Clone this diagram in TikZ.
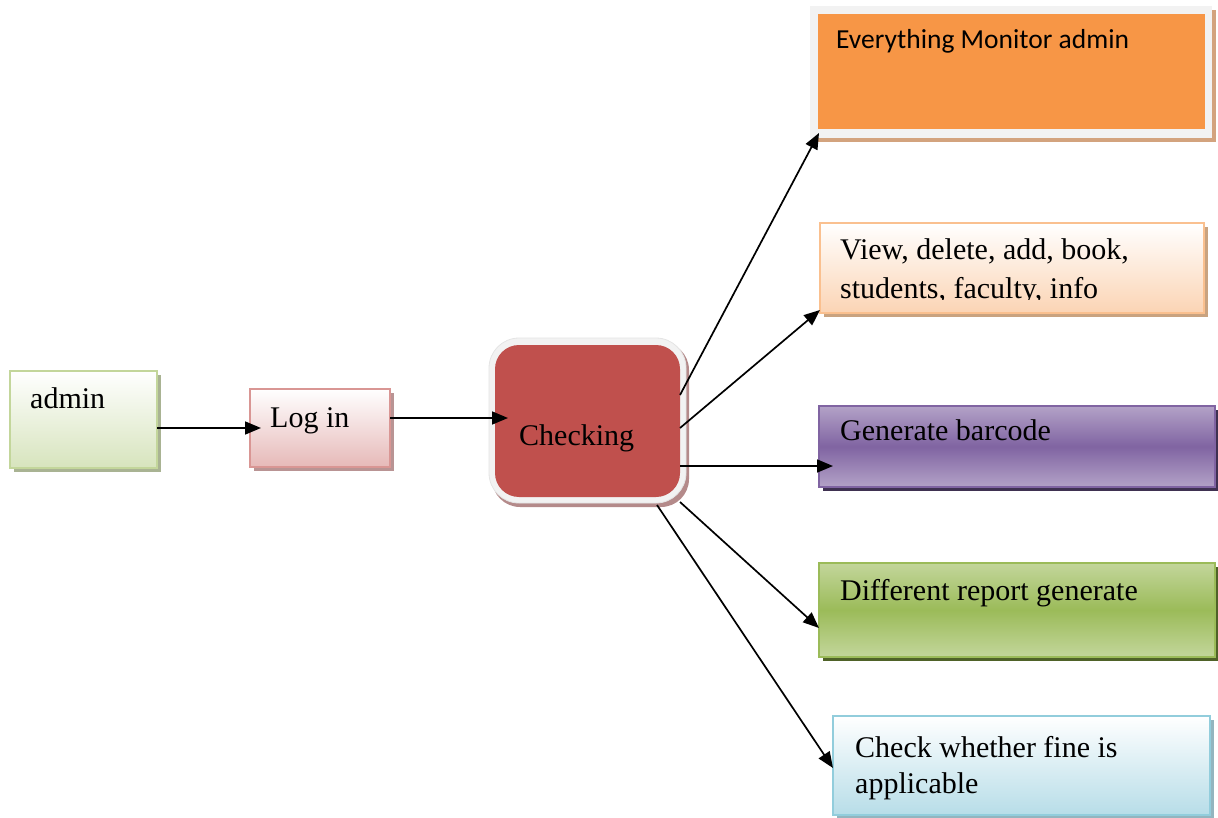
\documentclass[tikz,border=0pt]{standalone}
\usepackage{fontspec}
\setmainfont{Liberation Serif}
\newfontfamily\calfont{Carlito}
\usetikzlibrary{arrows.meta,calc}
\definecolor{gA}{HTML}{C3D69B}\definecolor{gB}{HTML}{D7E4BD}\definecolor{gS}{HTML}{A9B393}
\definecolor{pA}{HTML}{D99694}\definecolor{pB}{HTML}{E6B9B8}\definecolor{pS}{HTML}{B99494}
\definecolor{oA}{HTML}{FAC08F}\definecolor{oB}{HTML}{FBD4B4}\definecolor{oS}{HTML}{C9A380}
\definecolor{vA}{HTML}{B3A2C7}\definecolor{vB}{HTML}{8064A2}\definecolor{vS}{HTML}{3F3151}
\definecolor{lA}{HTML}{C3D69B}\definecolor{lB}{HTML}{9BBB59}\definecolor{lS}{HTML}{4F6228}
\definecolor{bA}{HTML}{92CDDC}\definecolor{bB}{HTML}{B7DDE8}\definecolor{bS}{HTML}{93B5BF}
\definecolor{orF}{HTML}{F79646}\definecolor{orS}{HTML}{D3A37E}
\definecolor{frm}{HTML}{F2F2F2}\definecolor{frmD}{HTML}{E4E4E4}
\definecolor{rdF}{HTML}{C0504D}\definecolor{rdS}{HTML}{B48A8A}
\tikzset{
  box/.style={rectangle,inner sep=0pt,outer sep=0pt,line width=1.6pt},
  txt/.style={anchor=base west,inner sep=0pt,font=\fontsize{30}{36}\selectfont},
  arr/.style={line width=1.7pt,-{Triangle[length=16pt,width=13pt]}},
}
\begin{document}
\begin{tikzpicture}[x=1pt,y=-1pt]
\useasboundingbox (0,0) rectangle (1218,818);
% shadows
\fill[gS] (14,375) rectangle (161,472);
\fill[pS] (254,393) rectangle (394,471);
\fill[oS] (824,227) rectangle (1208,317);
\fill[vS] (823,410) rectangle (1219,491);
\fill[lS] (823,567) rectangle (1219,661);
\fill[bS] (837,720) rectangle (1214,819);
\fill[orS] (814,10) rectangle (1216,142);
\fill[rdS,rounded corners=28pt] (492,342) rectangle (689,507);
% boxes
\node[box,draw=gA,top color=white,bottom color=gB,minimum width=147pt,minimum height=97pt] (admin) at (83.5,419.5) {};
\node[box,draw=pA,top color=white,bottom color=pB,minimum width=140pt,minimum height=78pt] (login) at (320,428) {};
\node[box,draw=frmD,fill=frm,line width=0.8pt,rounded corners=30pt,minimum width=197pt,minimum height=165pt] (chkframe) at (587.5,420.5) {};
\node[box,fill=rdF,draw=none,rounded corners=24pt,minimum width=185pt,minimum height=152pt] (chk) at (587.5,421) {};
\node[box,fill=frm,draw=none,minimum width=402pt,minimum height=132pt] (emaframe) at (1011,72) {};
\node[box,fill=orF,draw=none,minimum width=387pt,minimum height=115pt] (ema) at (1011.5,71.5) {};
\node[box,draw=oA,top color=white,bottom color=oB,minimum width=384pt,minimum height=90pt] (view) at (1012,268) {};
\node[box,draw=vB,top color=vA,bottom color=vA,middle color=vB,minimum width=396pt,minimum height=81pt] (gen) at (1017,446.5) {};
\node[box,draw=lB,top color=lA,bottom color=lA,middle color=lB,minimum width=396pt,minimum height=94pt] (diff) at (1017,610) {};
\node[box,draw=bA,top color=white,bottom color=bB,minimum width=377pt,minimum height=99pt] (check) at (1021.5,765.5) {};
% texts
\node[txt] (tadmin) at (30,408) {admin};
\node[txt] (tlogin) at (270,427) {Log in};
\node[txt] (tchk) at (519,445) {Checking};
\node[anchor=base west,inner sep=0pt,font=\calfont\fontsize{27.5}{33}\selectfont] (tema) at (836,49) {Everything Monitor admin};
\node[txt] (tview1) at (840,260) {View, delete, add, book,};
\begin{scope}
\clip (820,270) rectangle (1204,300);
\node[txt] (tview2) at (840,299) {students, faculty, info};
\end{scope}
\node[txt] (tgen) at (840,440) {Generate barcode};
\node[txt] (tdiff) at (840,600) {Different report generate};
\node[txt] (tcheck1) at (855,757) {Check whether fine is};
\node[txt] (tcheck2) at (855,793) {applicable};
% connectors
\draw[arr] (admin.east |- login.center) -- ([xshift=11pt]login.west);
\draw[arr] ([yshift=10pt]login.east) -- ([xshift=13pt,yshift=3pt]chk.west);
\draw[arr] ([yshift=26pt]chk.east) -- ([xshift=1pt,yshift=-4pt]ema.south west);
\draw[arr] ([yshift=-7pt]chk.east) -- ([yshift=3pt]view.south west);
\draw[arr] ([yshift=-45pt]chk.east) -- ([xshift=14pt,yshift=-19.5pt]gen.west);
\draw[arr] ([yshift=-5pt]chk.south east) -- ([yshift=-18pt]diff.west);
\draw[arr] ([xshift=-23pt,yshift=-8pt]chk.south east) -- ([yshift=-2.5pt]check.west);
\end{tikzpicture}
\end{document}
